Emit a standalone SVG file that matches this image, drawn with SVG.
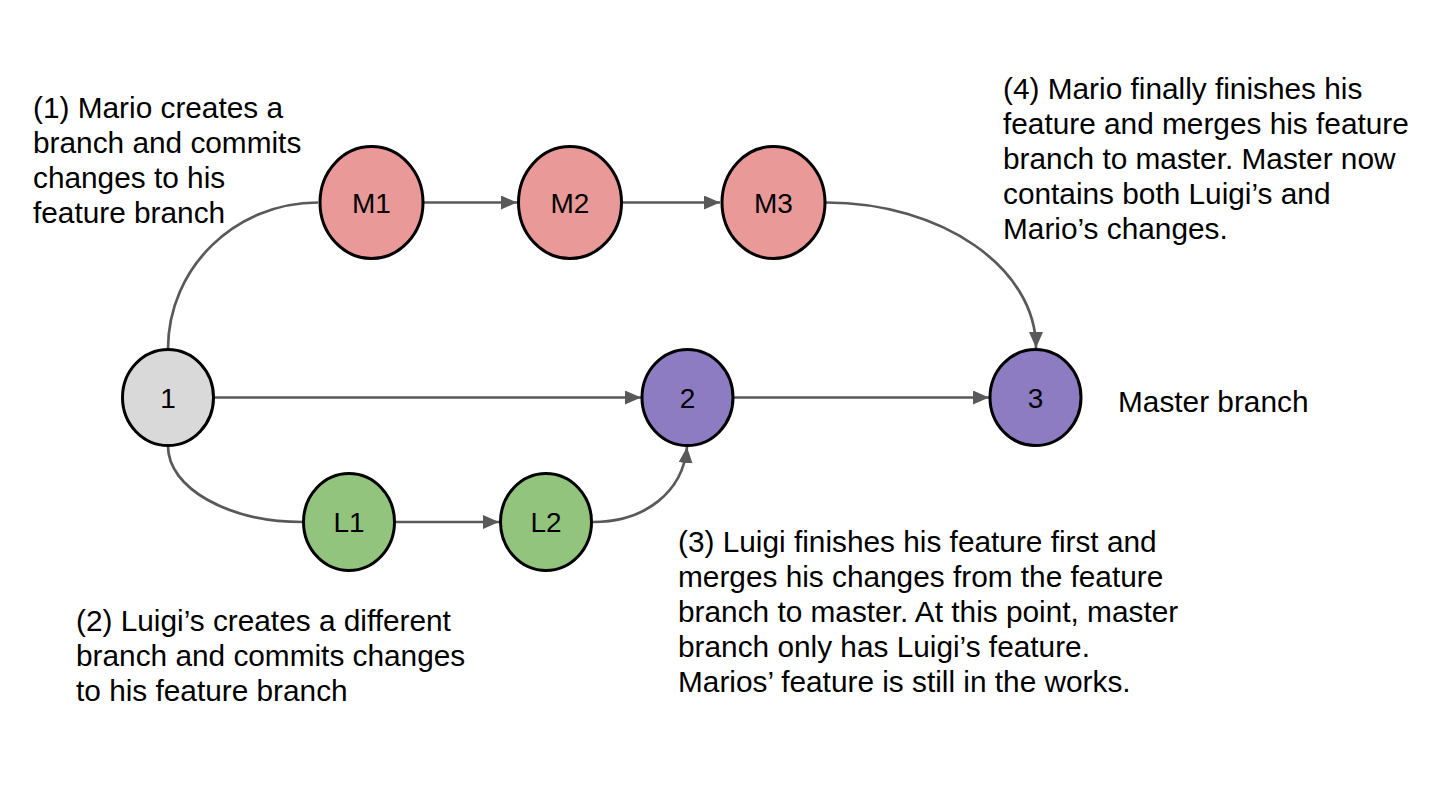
<svg xmlns="http://www.w3.org/2000/svg" width="1456" height="790" viewBox="0 0 1456 790">
<defs>
<marker id="arr" viewBox="0 0 16 14" refX="16" refY="7" markerWidth="16" markerHeight="14" markerUnits="userSpaceOnUse" orient="auto">
<path d="M0,0 L16,7 L0,14 Z" fill="#595959"/>
</marker>
<style>
.edge{fill:none;stroke:#595959;stroke-width:2.7}
.node{stroke:#000;stroke-width:3}
.lbl{font-family:"Liberation Sans",Arial,sans-serif;font-size:28px;fill:#000;text-anchor:middle}
.note{font-family:"Liberation Sans",Arial,sans-serif;font-size:29.8px;fill:#000}
</style>
</defs>
<rect width="1456" height="790" fill="#fff"/>
<g id="connectors">
<path class="edge" d="M168,349 C168,268 235,202.5 318,202.5"/>
<path class="edge" d="M168,446 C168,488 228,522 303,522"/>
<path class="edge" d="M214,397.5 L641,397.5" marker-end="url(#arr)"/>
<path class="edge" d="M734,397.5 L989,397.5" marker-end="url(#arr)"/>
<path class="edge" d="M424,202.5 L517,202.5" marker-end="url(#arr)"/>
<path class="edge" d="M623,202.5 L720,202.5" marker-end="url(#arr)"/>
<path class="edge" d="M395,522 L499,522" marker-end="url(#arr)"/>
<path class="edge" d="M593,522 C645,522 683,492 687,447" marker-end="url(#arr)"/>
<path class="edge" d="M826,202.5 C942,202.5 1036,268 1036,348" marker-end="url(#arr)"/>
</g>
<g id="n1"><ellipse class="node" cx="168" cy="397.5" rx="45.5" ry="48" fill="#d9d9d9"/><text class="lbl" x="168" y="408">1</text></g>
<g id="n2"><ellipse class="node" cx="687.5" cy="397.5" rx="45.5" ry="48" fill="#8e7cc3"/><text class="lbl" x="687.5" y="408">2</text></g>
<g id="n3"><ellipse class="node" cx="1035.5" cy="397.5" rx="45.5" ry="48" fill="#8e7cc3"/><text class="lbl" x="1035.5" y="408">3</text></g>
<g id="M1"><ellipse class="node" cx="371.5" cy="202.5" rx="51.5" ry="56" fill="#ea9999"/><text class="lbl" x="371.5" y="213">M1</text></g>
<g id="M2"><ellipse class="node" cx="570" cy="202.5" rx="51.5" ry="56" fill="#ea9999"/><text class="lbl" x="570" y="213">M2</text></g>
<g id="M3"><ellipse class="node" cx="773.5" cy="202.5" rx="51.5" ry="56" fill="#ea9999"/><text class="lbl" x="773.5" y="213">M3</text></g>
<g id="L1"><ellipse class="node" cx="349" cy="522" rx="45.5" ry="48.5" fill="#93c47d"/><text class="lbl" x="349" y="532">L1</text></g>
<g id="L2"><ellipse class="node" cx="546" cy="522" rx="45.5" ry="48.5" fill="#93c47d"/><text class="lbl" x="546" y="532">L2</text></g>
<g id="note1"><text class="note" x="33" y="118"><tspan x="33" y="118">(1) Mario creates a</tspan><tspan x="33" y="153">branch and commits</tspan><tspan x="33" y="188">changes to his</tspan><tspan x="33" y="223">feature branch</tspan></text></g>
<g id="note2"><text class="note" x="76" y="631"><tspan x="76" y="631">(2) Luigi’s creates a different</tspan><tspan x="76" y="666">branch and commits changes</tspan><tspan x="76" y="701">to his feature branch</tspan></text></g>
<g id="note3"><text class="note" x="678" y="552"><tspan x="678" y="552">(3) Luigi finishes his feature first and</tspan><tspan x="678" y="587">merges his changes from the feature</tspan><tspan x="678" y="622">branch to master. At this point, master</tspan><tspan x="678" y="657">branch only has Luigi’s feature.</tspan><tspan x="678" y="692">Marios’ feature is still in the works.</tspan></text></g>
<g id="note4"><text class="note" x="1003" y="99"><tspan x="1003" y="99">(4) Mario finally finishes his</tspan><tspan x="1003" y="134">feature and merges his feature</tspan><tspan x="1003" y="169">branch to master. Master now</tspan><tspan x="1003" y="204">contains both Luigi’s and</tspan><tspan x="1003" y="239">Mario’s changes.</tspan></text></g>
<g id="master"><text class="note" x="1118" y="412">Master branch</text></g>
</svg>
